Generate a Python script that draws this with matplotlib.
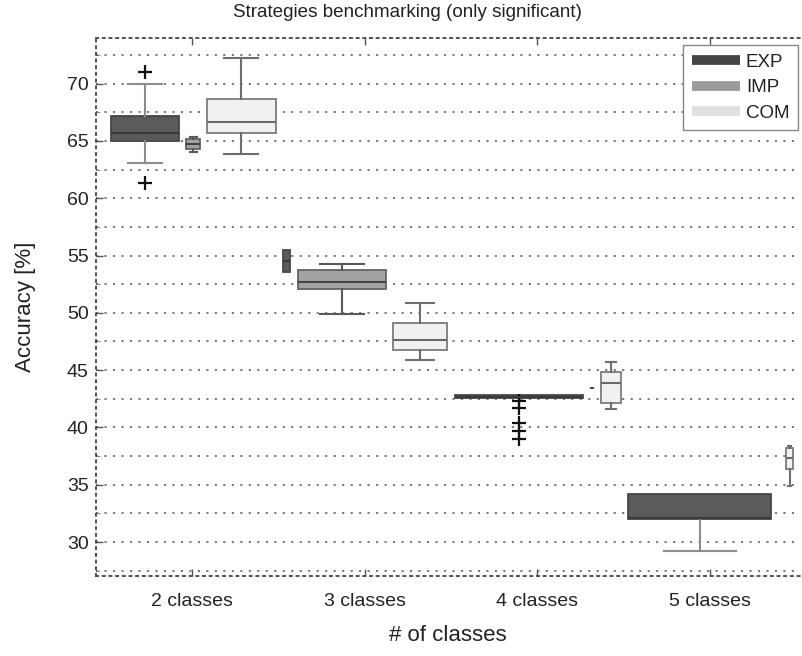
import matplotlib
matplotlib.use("Agg")
import matplotlib.pyplot as plt
from matplotlib.lines import Line2D

plt.rcParams['font.family'] = ['Liberation Sans', 'DejaVu Sans']

categories = ["2 classes", "3 classes", "4 classes", "5 classes"]
strategies = ["EXP", "IMP", "COM"]

# Box statistics per strategy: (whislo, q1, med, q3, whishi)
exp_stats = [(63.1, 64.97, 65.7, 67.18, 70.0),
             (53.6, 53.6, 54.56, 55.5, 55.5),
             (42.55, 42.55, 42.7, 42.85, 42.85),
             (29.2, 32.04, 32.1, 34.16, 34.16)]
exp_fliers = [[71.0, 61.3], [], [42.3, 41.7, 40.4, 39.7, 39.0], []]
exp_pos = [0.728, 1.547, 2.893, 3.94]
exp_w = [0.394, 0.04, 0.74, 0.83]

imp_stats = [(64.04, 64.3, 64.77, 65.2, 65.35),
             (49.86, 52.1, 52.67, 53.78, 54.27),
             (43.4, 43.4, 43.4, 43.4, 43.4)]
imp_fliers = [[], [], []]
imp_pos = [1.006, 1.869, 3.316]
imp_w = [0.081, 0.51, 0.025]

com_stats = [(63.84, 65.73, 66.65, 68.63, 72.23),
             (45.85, 46.78, 47.65, 49.1, 50.84),
             (41.57, 42.1, 43.9, 44.86, 45.7),
             (34.9, 36.35, 37.3, 38.23, 38.4)]
com_fliers = [[], [], [], []]
com_pos = [1.284, 2.32, 3.426, 4.46]
com_w = [0.40, 0.318, 0.116, 0.04]

styles = {
    "EXP": dict(fill="#5b5b5b", edge="#474747", whisk="#8c8c8c", med="#3a3a3a", leg="#444444"),
    "IMP": dict(fill="#a3a3a3", edge="#626262", whisk="#595959", med="#454545", leg="#9a9a9a"),
    "COM": dict(fill="#f1f1f1", edge="#7c7c7c", whisk="#6e6e6e", med="#6a6a6a", leg="#e0e0e0"),
}

fig = plt.figure(figsize=(8.02, 6.56), dpi=100)
ax = fig.add_axes([0.1193, 0.1212, 0.8782, 0.8213])

ax.set_ylim(27, 74)
ax.set_xlim(0.442, 4.52)
ax.set_yticks([30, 35, 40, 45, 50, 55, 60, 65, 70])
ax.set_yticks([27.5, 32.5, 37.5, 42.5, 47.5, 52.5, 57.5, 62.5, 67.5, 72.5], minor=True)
ax.yaxis.grid(True, which='both', linestyle=(0, (1.2, 3.5)), color='#6f6f6f', linewidth=1.3)
ax.set_axisbelow(True)


def draw(stats, fliers, pos, widths, key):
    st = styles[key]
    bx = []
    for (lo, q1, med, q3, hi), fl in zip(stats, fliers):
        bx.append(dict(whislo=lo, q1=q1, med=med, q3=q3, whishi=hi, fliers=fl))
    res = ax.bxp(bx, positions=pos, widths=widths, capwidths=[w * 0.5 for w in widths],
                 patch_artist=True, showfliers=True, manage_ticks=False,
                 boxprops=dict(facecolor=st["fill"], edgecolor=st["edge"], linewidth=1.3),
                 whiskerprops=dict(color=st["whisk"], linewidth=1.5, linestyle='-'),
                 capprops=dict(color=st["whisk"], linewidth=1.5),
                 medianprops=dict(color=st["med"], linewidth=1.5),
                 flierprops=dict(marker='+', markeredgecolor='#111111', markersize=10,
                                 markeredgewidth=1.6, linestyle='none'))
    # hide caps that coincide with the box edge
    for i, s in enumerate(bx):
        if s["whislo"] == s["q1"]:
            res["caps"][2 * i].set_visible(False)
        if s["whishi"] == s["q3"]:
            res["caps"][2 * i + 1].set_visible(False)


draw(exp_stats, exp_fliers, exp_pos, exp_w, "EXP")
draw(imp_stats, imp_fliers, imp_pos, imp_w, "IMP")
draw(com_stats, com_fliers, com_pos, com_w, "COM")

ax.set_xticks([1, 2, 3, 4])
ax.set_xticklabels(categories)
ax.tick_params(axis='both', which='major', labelsize=14, colors='#222222',
               direction='in', length=5, width=1.0)
ax.tick_params(axis='x', top=True, bottom=True, pad=12, colors='#555555', labelcolor='#222222')
ax.tick_params(axis='y', which='minor', left=True, direction='in', length=3, color='#777777')
ax.tick_params(axis='y', which='major', pad=5, colors='#555555', labelcolor='#222222')

for side in ['left', 'top', 'bottom']:
    ax.spines[side].set_linestyle((0, (1.2, 2.5)))
    ax.spines[side].set_color('#444444')
    ax.spines[side].set_linewidth(1.3)
ax.spines['right'].set_visible(False)

ax.set_title("Strategies benchmarking (only significant)", fontsize=13.6, color='#222222',
             pad=15, x=0.443)
ax.set_ylabel("Accuracy [%]", fontsize=16, color='#222222', labelpad=22)
ax.set_xlabel("# of classes", fontsize=16, color='#222222', labelpad=11)

handles = [Line2D([0], [0], color=styles[k]["leg"], linewidth=7, solid_capstyle='butt')
           for k in strategies]
leg = ax.legend(handles, strategies, loc='upper right', bbox_to_anchor=(0.997, 0.9865),
                borderaxespad=0, fontsize=13.5, handlelength=2.6, handletextpad=0.3,
                labelspacing=0.45, fancybox=False, framealpha=1, edgecolor='#888888',
                borderpad=0.45)
leg.get_frame().set_linewidth(1.0)
for t in leg.get_texts():
    t.set_color('#222222')

fig.savefig("out.png", dpi=100)
